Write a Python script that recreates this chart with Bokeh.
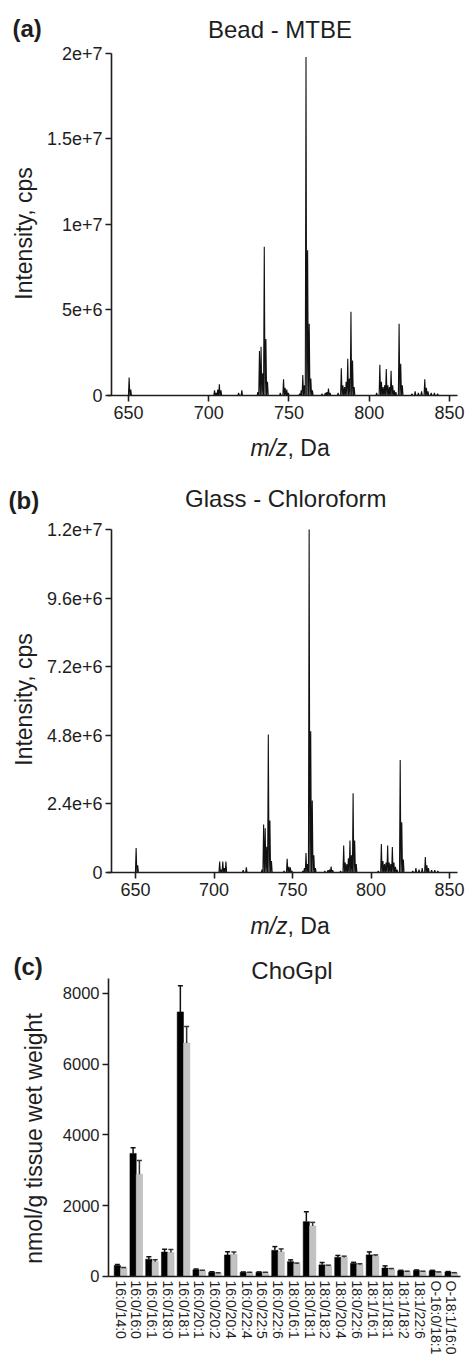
import math
from bokeh.plotting import figure
from bokeh.layouts import column
from bokeh.models import ColumnDataSource, FixedTicker, Label, Whisker, TeeHead, Range1d
from bokeh.transform import dodge
from bokeh.embed import file_html
from bokeh.resources import INLINE

FONT = "Liberation Sans"
INK = "#1e1e1e"

# ---------------- data ----------------
# spectrum peaks (m/z) and intensities (x 1e6 cps)
mz = [650.4, 651.4,
      703.6, 704.6, 705.6, 706.6, 707.6,
      718.6, 720.6,
      730.6, 731.6, 732.6, 733.6, 734.6, 735.6, 736.6,
      744.6, 746.6, 747.6, 748.6, 749.6,
      756.6, 757.6, 758.6, 759.6, 760.6, 761.6, 762.6, 763.6, 764.6,
      770.6, 772.6, 773.6, 774.6, 775.6,
      780.6, 782.6, 783.6, 784.6, 785.6, 786.6, 787.6, 788.6, 789.6, 790.6,
      804.6, 806.6, 807.6, 808.6, 809.6, 810.6, 811.6, 812.6, 813.6, 814.6, 815.6, 816.6,
      818.6, 819.6, 820.6,
      826.6, 828.6, 830.6, 832.6, 834.6, 835.6, 836.6, 838.6, 840.6, 842.6]

int_bead = [1.05, 0.35,
            0.30, 0.15, 0.35, 0.65, 0.30,
            0.15, 0.30,
            0.20, 2.60, 2.85, 1.30, 8.70, 3.30, 0.80,
            0.15, 0.95, 0.45, 0.35, 0.15,
            0.10, 0.30, 1.20, 0.60, 19.8, 8.50, 4.20, 1.00, 0.30,
            0.10, 0.15, 0.20, 0.40, 0.15,
            0.15, 1.60, 0.60, 0.50, 0.80, 2.15, 1.00, 4.90, 2.05, 0.50,
            0.15, 1.80, 0.80, 0.50, 0.60, 1.55, 0.60, 0.50, 1.45, 0.60, 0.30, 0.20,
            4.20, 1.85, 0.60,
            0.10, 0.25, 0.15, 0.25, 0.95, 0.45, 0.25, 0.15, 0.15, 0.10]

int_glass = [0.86, 0.25,
             0.38, 0.10, 0.38, 0.15, 0.38,
             0.08, 0.18,
             0.10, 1.68, 1.55, 0.90, 4.83, 1.82, 0.40,
             0.05, 0.48, 0.20, 0.18, 0.05,
             0.05, 0.15, 0.68, 0.30, 12.0, 4.94, 2.52, 0.60, 0.15,
             0.05, 0.08, 0.10, 0.21, 0.08,
             0.05, 0.94, 0.35, 0.30, 0.50, 1.12, 0.60, 2.77, 1.12, 0.30,
             0.05, 1.00, 0.40, 0.30, 0.35, 0.94, 0.35, 0.30, 0.89, 0.35, 0.20, 0.10,
             3.94, 1.76, 0.45,
             0.05, 0.15, 0.10, 0.15, 0.54, 0.25, 0.15, 0.08, 0.08, 0.05]

cats = ["16:0/14:0", "16:0/16:0", "16:0/16:1", "16:0/18:0", "16:0/18:1", "16:0/20:1",
        "16:0/20:2", "16:0/20:4", "16:0/22:4", "16:0/22:5", "16:0/22:6", "18:0/16:1",
        "18:0/18:1", "18:0/18:2", "18:0/20:4", "18:0/22:6", "18:1/16:1", "18:1/18:1",
        "18:1/18:2", "18:1/22:6", "O-16:0/18:1", "O-18:1/16:0"]
black_vals = [310, 3480, 490, 690, 7480, 190, 120, 610, 120, 120, 740, 420,
              1550, 330, 540, 370, 610, 240, 160, 170, 160, 130]
black_upper = [340, 3640, 560, 770, 8220, 210, 135, 700, 130, 130, 845, 470,
               1830, 395, 595, 400, 695, 300, 175, 185, 175, 140]
grey_vals = [240, 2890, 420, 680, 6600, 160, 95, 630, 110, 110, 700, 360,
             1430, 300, 535, 330, 575, 205, 140, 140, 120, 100]
grey_upper = [255, 3280, 470, 760, 7070, 180, 105, 690, 120, 120, 780, 380,
              1530, 320, 575, 360, 610, 225, 150, 150, 130, 108]

ticks_a = [0, 5e6, 1e7, 1.5e7, 2e7]
labels_a = ["0", "5e+6", "1e+7", "1.5e+7", "2e+7"]
ticks_b = [0, 2.4e6, 4.8e6, 7.2e6, 9.6e6, 1.2e7]
labels_b = ["0", "2.4e+6", "4.8e+6", "7.2e+6", "9.6e+6", "1.2e+7"]
ticks_c = [0, 2000, 4000, 6000, 8000]
ticks_mz = [650, 700, 750, 800, 850]


def trace(mzs, vals, hw=0.45):
    xs, ys = [], []
    for m, v in zip(mzs, vals):
        xs += [m - hw, m, m + hw]
        ys += [0, v * 1e6, 0]
    return xs, ys


def base_fig(h, xr, yr):
    p = figure(width=465, height=h, output_backend="svg", toolbar_location=None,
               x_range=Range1d(*xr), y_range=Range1d(*yr), min_border=0)
    p.title.visible = False
    p.outline_line_color = None
    p.xgrid.visible = False
    p.ygrid.visible = False
    return p


def style_axes(p, xloc, yloc, xb, yb):
    p.xaxis.fixed_location = xloc
    p.yaxis.fixed_location = yloc
    p.xaxis.bounds = xb
    p.yaxis.bounds = yb
    for ax in p.axis:
        ax.axis_line_width = 1.6
        ax.axis_line_color = INK
        ax.major_tick_line_width = 1.6
        ax.major_tick_line_color = INK
        ax.minor_tick_line_color = None
        ax.major_tick_in = 0
        ax.major_tick_out = 6
        ax.major_label_text_font = FONT
        ax.major_label_text_color = INK


def add_text(p, x, y, text, size, style_="normal", align="left", angle=0.0):
    p.add_layout(Label(x=x, y=y, x_units="screen", y_units="screen", text=text,
                       text_font=FONT, text_font_size=size, text_font_style=style_,
                       text_align=align, text_baseline="middle", text_color=INK,
                       angle=angle))


def spectrum(vals, h, xr, yr, yaxis_x, xbounds, ymax, ticks, labels, texts):
    p = base_fig(h, xr, yr)
    xs, ys = trace(mz, vals)
    p.line(xs, ys, line_color="#111111", line_width=1.1)
    style_axes(p, 0, yaxis_x, xbounds, (0, ymax))
    p.xaxis.ticker = FixedTicker(ticks=ticks_mz)
    p.xaxis.major_label_text_font_size = "18px"
    p.xaxis.major_label_standoff = 4
    p.yaxis.ticker = FixedTicker(ticks=ticks)
    p.yaxis.major_label_overrides = {t: l for t, l in zip(ticks, labels)}
    p.yaxis.major_label_text_font_size = "18px"
    p.yaxis.major_label_standoff = 3
    tag, title, ylab, mzlab = texts
    add_text(p, tag[1], tag[2], tag[0], "24px", "bold", "left")
    add_text(p, title[1], title[2], title[0], "24px", "normal", "center")
    add_text(p, ylab[0], ylab[1], "Intensity, cps", "23px", "normal", "center", math.pi / 2)
    add_text(p, mzlab[0], mzlab[1], "m/z", "23px", "italic", "right")
    add_text(p, mzlab[0], mzlab[1], ", Da", "23px", "normal", "left")
    return p


# panel (a): canvas rows 0..460
p1 = spectrum(int_bead, 460, (570.25, 859.97), (-3.801e6, 2.3099e7), 639.41,
              (636.92, 854.98), 2e7, ticks_a, labels_a,
              (("(a)", 12, 432), ("Bead - MTBE", 279.5, 431.5), (23, 227), (287, 13)))
# panel (b): canvas rows 460..940
p2 = spectrum(int_glass, 480, (564.01, 860.19), (-2.379e6, 1.4414e7), 634.71,
              (632.17, 855.1), 1.2e7, ticks_b, labels_b,
              (("(b)", 8, 440), ("Glass - Chloroform", 285.3, 442.5), (23, 241), (287, 15)))

# ---------------- panel (c): canvas rows 940..1356 ----------------
src = ColumnDataSource(dict(x=list(range(len(cats))), black=black_vals, black_up=black_upper,
                            grey=grey_vals, grey_up=grey_upper))
p3 = base_fig(416, (-7.619, 21.905), (-2261.5, 9498.2))
p3.vbar(x=dodge("x", -0.2, range=p3.x_range), top="black", width=0.4, source=src,
        fill_color="black", line_color="black", line_width=0.5)
p3.vbar(x=dodge("x", 0.2, range=p3.x_range), top="grey", width=0.4, source=src,
        fill_color="#c2c2c2", line_color="#b0b0b0", line_width=0.5)
p3.add_layout(Whisker(source=src, base=dodge("x", -0.2, range=p3.x_range), lower="black",
                      upper="black_up", lower_head=None,
                      upper_head=TeeHead(size=5, line_width=1.5, line_color="#111111"),
                      line_width=1.5, line_color="#111111", level="overlay"))
p3.add_layout(Whisker(source=src, base=dodge("x", 0.2, range=p3.x_range), lower="grey",
                      upper="grey_up", lower_head=None,
                      upper_head=TeeHead(size=5, line_width=1.5, line_color="#333333"),
                      line_width=1.5, line_color="#333333", level="overlay"))
style_axes(p3, 0, -0.762, (-0.762, 21.587), (0, 8420))
p3.xaxis.ticker = FixedTicker(ticks=list(range(len(cats))))
p3.xaxis.major_label_overrides = {i: c for i, c in enumerate(cats)}
p3.xaxis.major_label_orientation = "vertical"
p3.xaxis.major_label_text_font_size = "14px"
p3.xaxis.major_tick_out = 0
p3.xaxis.major_label_standoff = 4
p3.yaxis.ticker = FixedTicker(ticks=ticks_c)
p3.yaxis.major_label_text_font_size = "16.5px"
p3.yaxis.major_label_standoff = 3
add_text(p3, 13, 390, "(c)", "24px", "bold", "left")
add_text(p3, 291.5, 386, "ChoGpl", "24px", "normal", "center")
add_text(p3, 33, 218, "nmol/g tissue wet weight", "23px", "normal", "center", math.pi / 2)

layout = column(p1, p2, p3, spacing=0)
open("out.html", "w").write(file_html(layout, INLINE))
